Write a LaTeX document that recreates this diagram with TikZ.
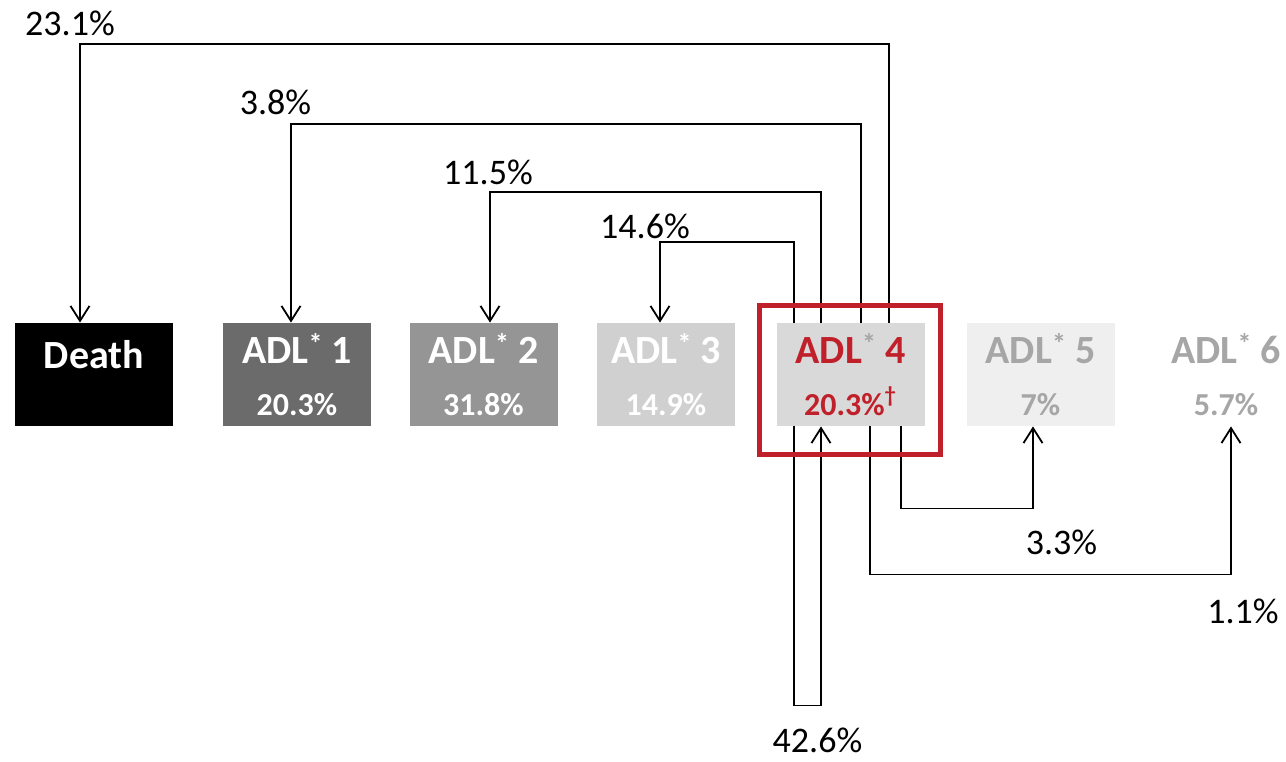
\documentclass[tikz,border=0pt]{standalone}
\usepackage{fontspec}
\setmainfont{Carlito}
\usetikzlibrary{calc,arrows.meta}

\definecolor{adlone}{HTML}{6B6B6B}
\definecolor{adltwo}{HTML}{959595}
\definecolor{adlthree}{HTML}{D0D0D0}
\definecolor{adlfour}{HTML}{D9D9D9}
\definecolor{adlfive}{HTML}{EFEFEF}
\definecolor{fadetext}{HTML}{A6A6A6}
\definecolor{markred}{HTML}{C0202A}

\newcommand{\pctline}[1]{{\fontsize{16}{26}\selectfont #1}}
\newcommand{\adlstar}{\raisebox{5pt}{\fontsize{14}{14}\selectfont *}}

\begin{document}
\begin{tikzpicture}[x=0.5pt,y=-0.5pt,
    stage/.style={minimum width=74pt,minimum height=51.5pt,inner sep=0pt,align=center,
                  font=\bfseries\fontsize{20}{26}\selectfont},
    flow/.style={line width=0.9pt,-{Straight Barb[length=7.5pt,width=9.5pt]}},
    pct/.style={inner sep=0pt,font=\fontsize{18}{20}\selectfont}]
  \useasboundingbox (0,0) rectangle (1286,761);

  % states
  \node[stage,fill=black,text=white,minimum width=79pt] (death) at (94,374.5) {Death\\[-6pt]\pctline{\phantom{0}}};
  \node[stage,fill=adlone,text=white] (adl1) at (297,374.5) {ADL\adlstar\ 1\\\pctline{20.3\%}};
  \node[stage,fill=adltwo,text=white] (adl2) at (483.5,374.5) {ADL\adlstar\ 2\\\pctline{31.8\%}};
  \node[stage,fill=adlthree,text=white,minimum width=69pt] (adl3) at (666,374.5) {ADL\adlstar\ 3\\\pctline{14.9\%}};
  \node[stage,fill=adlfour,text=markred] (adl4) at (850.5,374.5) {ADL{\color{fadetext}\adlstar}\ 4\\\pctline{20.3\%\textsuperscript{\textdagger}}};
  \node[stage,fill=adlfive,text=fadetext] (adl5) at (1040.5,374.5) {ADL\adlstar\ 5\\\pctline{7\%}};
  \node[stage,text=fadetext] (adl6) at (1226,374.5) {ADL\adlstar\ 6\\\pctline{5.7\%}};

  % transitions out of ADL 4, upwards
  \draw[flow] ([shift={(38.5,0)}]adl4.north) -- ++(0,-279) -| ([shift={(-14,0)}]death.north);
  \draw[flow] ([shift={(10.5,0)}]adl4.north) -- ++(0,-199) -| ([shift={(-6,0)}]adl1.north);
  \draw[flow] ([shift={(-29.5,0)}]adl4.north) -- ++(0,-131) -| ([shift={(6.5,0)}]adl2.north);
  \draw[flow] ([shift={(-56.5,0)}]adl4.north) -- ++(0,-81) -| ([shift={(-6,0)}]adl3.north);

  % downwards
  \draw[flow] ([shift={(-56.5,0)}]adl4.south) -- ++(0,279) -| ([shift={(-29.5,0)}]adl4.south);
  \draw[flow] ([shift={(50.5,0)}]adl4.south) -- ++(0,82) -| ([shift={(-7.5,0)}]adl5.south);
  \draw[flow] ([shift={(19.5,0)}]adl4.south) -- ++(0,148) -| ([shift={(5,0)}]adl6.south);

  % shares
  \node[pct] (p1) at (70,23.5) {23.1\%};
  \node[pct] (p2) at (275.5,102.5) {3.8\%};
  \node[pct] (p3) at (488,172) {11.5\%};
  \node[pct] (p4) at (645,226) {14.6\%};
  \node[pct] (p5) at (817.5,740) {42.6\%};
  \node[pct] (p6) at (1061.5,542.5) {3.3\%};
  \node[pct] (p7) at (1243,611) {1.1\%};

  % frame round ADL 4
  \draw[markred,line width=2.5pt] ($(adl4.north west)+(-16.5,-17.5)$) rectangle ($(adl4.south east)+(15.5,28.5)$);
\end{tikzpicture}
\end{document}
